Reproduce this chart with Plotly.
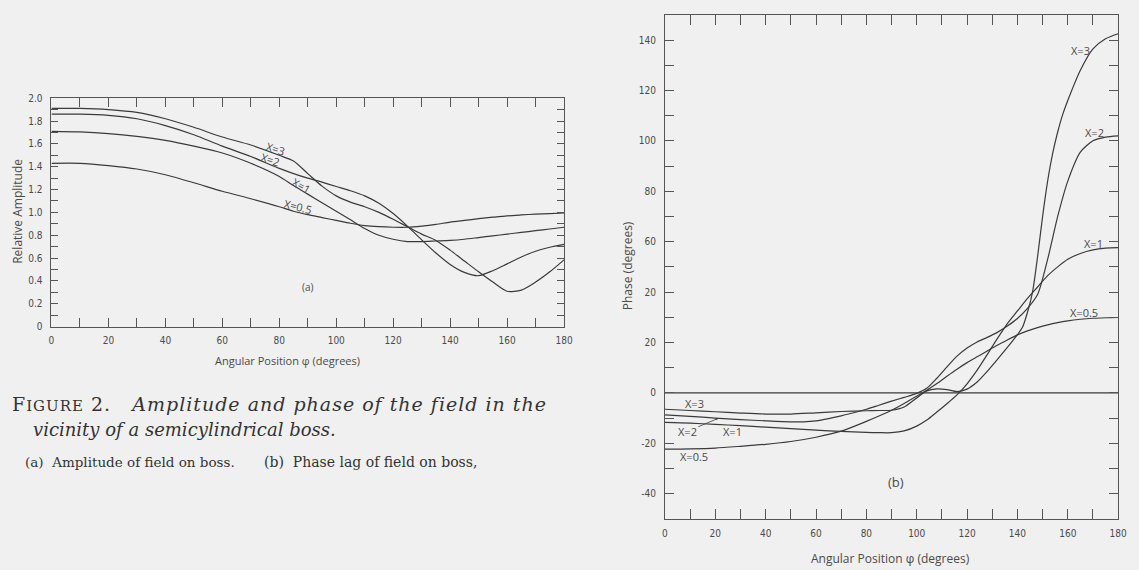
import plotly.graph_objects as go

# ---------------- data: panel (a) relative amplitude ----------------
phi_a = [0, 10, 20, 30, 40, 50, 60, 70, 80, 85, 90, 95, 100, 105, 110, 115, 120,
         125, 130, 135, 140, 145, 150, 155, 160, 165, 170, 175, 180]
amp_x3 = [1.91, 1.91, 1.90, 1.875, 1.82, 1.745, 1.66, 1.59, 1.50, 1.45, 1.34, 1.23,
          1.145, 1.09, 1.05, 1.0, 0.94, 0.875, 0.81, 0.755, 0.67, 0.575, 0.48,
          0.39, 0.31, 0.32, 0.39, 0.48, 0.585]
amp_x2 = [1.86, 1.86, 1.85, 1.82, 1.76, 1.68, 1.58, 1.49, 1.385, 1.34, 1.30, 1.265,
          1.227, 1.19, 1.145, 1.08, 0.99, 0.88, 0.76, 0.645, 0.545, 0.475, 0.446,
          0.49, 0.55, 0.61, 0.66, 0.695, 0.72]
amp_x1 = [1.71, 1.705, 1.69, 1.665, 1.63, 1.58, 1.52, 1.43, 1.315, 1.235, 1.16,
          1.085, 1.01, 0.935, 0.86, 0.80, 0.765, 0.745, 0.745, 0.75, 0.755, 0.765,
          0.78, 0.795, 0.81, 0.825, 0.84, 0.855, 0.87]
amp_x05 = [1.43, 1.43, 1.41, 1.38, 1.33, 1.26, 1.185, 1.12, 1.05, 1.01, 0.98, 0.955,
           0.93, 0.905, 0.885, 0.875, 0.87, 0.87, 0.88, 0.895, 0.915, 0.93, 0.945,
           0.958, 0.97, 0.978, 0.985, 0.99, 0.995]

# ---------------- data: panel (b) phase ----------------
phi_b3 = [0, 10, 20, 30, 40, 50, 60, 70, 80, 85, 90, 95, 100, 104, 108, 112, 116, 120,
          124, 128, 132, 136, 140, 142, 144, 146, 148, 150, 152, 154, 156, 158, 160,
          165, 170, 175, 180]
ph_x3 = [-6.5, -7.0, -7.5, -8.0, -8.4, -8.4, -7.9, -7.4, -7.1, -7.0, -6.9, -5.6, -2.0,
         0.8, 1.6, 1.3, 0.5, 1.5, 4.3, 8.5, 13.2, 18.0, 23.1, 26, 32, 40, 54, 70, 84,
         95, 103.5, 110.5, 116, 128, 136.5, 140.5, 142.5]
phi_b2 = [0, 10, 20, 30, 40, 50, 55, 60, 65, 70, 75, 80, 85, 90, 95, 100, 104, 108,
          112, 116, 120, 124, 128, 132, 136, 140, 144, 148, 152, 156, 160, 165, 170,
          175, 180]
ph_x2 = [-8.7, -9.3, -10.0, -10.6, -11.1, -11.5, -11.5, -11.1, -10.2, -9.1, -7.9, -6.5,
         -4.9, -3.3, -1.8, -0.2, 1.8, 5.8, 10.3, 14.6, 17.8, 20.2, 22.0, 24.0, 26.5,
         29.5, 33.5, 39, 53, 70, 84, 95.5, 100, 101.5, 102]
phi_b1 = [0, 10, 20, 30, 40, 50, 60, 70, 80, 85, 90, 95, 100, 104, 108, 112, 116, 120,
          124, 128, 132, 136, 140, 144, 148, 152, 156, 160, 165, 170, 175, 180]
ph_x1 = [-11.7, -12.0, -12.5, -13.0, -13.6, -14.2, -14.8, -15.3, -15.7, -15.8, -15.8,
         -15.1, -13.2, -10.8, -7.6, -4.3, -0.8, 3.6, 9.0, 15.2, 21.5, 27.5, 32.5, 37.5,
         42, 46.5, 50, 53, 55.3, 56.7, 57.4, 57.6]
phi_b05 = [0, 10, 20, 30, 40, 50, 60, 70, 80, 85, 90, 95, 100, 104, 108, 112, 116, 120,
           124, 128, 132, 136, 140, 144, 148, 152, 156, 160, 165, 170, 175, 180]
ph_x05 = [-22.3, -22.2, -21.9, -21.2, -20.4, -19.3, -17.6, -15.2, -11.3, -9.2, -6.9,
          -4.2, -1.3, 1.0, 3.7, 6.6, 9.4, 12.0, 14.3, 16.6, 18.9, 21.0, 23.0, 24.6,
          25.9, 27.0, 27.9, 28.6, 29.2, 29.6, 29.8, 29.9]
zero_x = [0, 180]
zero_y = [0, 0]

# tick labels
a_ytickvals = [0, 0.2, 0.4, 0.6, 0.8, 1.0, 1.2, 1.4, 1.6, 1.8, 2.0]
a_yticktext = ["0", "0.2", "0.4", "0.6", "0.8", "1.0", "1.2", "1.4", "1.6", "1.8", "2.0"]
b_ytickvals = [-40, -20, 0, 20, 40, 60, 80, 100, 120, 140]
b_yticktext = ["-40", "-20", "0", "20", "20", "60", "80", "100", "120", "140"]
x_tickvals = [0, 20, 40, 60, 80, 100, 120, 140, 160, 180]

W, H = 1139, 570
LINE = "#3a3a3a"
AX = "#555555"
TXT = "#4a4a4a"
BG = "#f0f0f0"
SANS = "Open Sans, DejaVu Sans, sans-serif"
NARROW = "Liberation Sans Narrow, DejaVu Sans Condensed, Roboto Condensed, sans-serif"
SERIF = "DejaVu Serif, Liberation Serif, serif"

def px(x):
    return x / W

def py(y):
    return 1 - y / H

fig = go.Figure()
line_style = dict(color=LINE, width=1.2, shape="spline", smoothing=0.7)
for ys in [amp_x3, amp_x2, amp_x1, amp_x05]:
    fig.add_trace(go.Scatter(x=phi_a, y=ys, mode="lines", line=line_style,
                             xaxis="x", yaxis="y", showlegend=False, hoverinfo="skip"))
for xs, ys in [(phi_b3, ph_x3), (phi_b2, ph_x2), (phi_b1, ph_x1), (phi_b05, ph_x05)]:
    fig.add_trace(go.Scatter(x=xs, y=ys, mode="lines", line=line_style,
                             xaxis="x2", yaxis="y2", showlegend=False, hoverinfo="skip"))
fig.add_trace(go.Scatter(x=zero_x, y=zero_y, mode="lines",
                         line=dict(color=LINE, width=1.2),
                         xaxis="x2", yaxis="y2", showlegend=False, hoverinfo="skip"))

common = dict(showline=True, linecolor=AX, linewidth=1, mirror="ticks",
              ticks="inside", tickcolor=AX, tickwidth=1, showgrid=False,
              zeroline=False, tickfont=dict(family=NARROW, size=10, color=TXT))

fig.update_layout(
    width=W, height=H,
    margin=dict(l=0, r=0, t=0, b=0),
    paper_bgcolor=BG, plot_bgcolor=BG,
    showlegend=False,
    xaxis=dict(domain=[px(49), px(567)], range=[0, 180], tickvals=x_tickvals,
               ticklen=9, minor=dict(dtick=10, ticks="inside", ticklen=9, tickcolor=AX),
               anchor="y", ticklabelstandoff=4, **common),
    yaxis=dict(domain=[py(328), py(95)], range=[0, 2], tickvals=a_ytickvals,
               ticktext=a_yticktext, ticklen=7,
               minor=dict(dtick=0.1, ticks="inside", ticklen=7, tickcolor=AX),
               anchor="x", ticklabelstandoff=6, **common),
    xaxis2=dict(domain=[px(669), px(1127)], range=[0, 180], tickvals=x_tickvals,
                ticklen=10, minor=dict(dtick=10, ticks="inside", ticklen=10, tickcolor=AX),
                anchor="y2", ticklabelstandoff=5, **common),
    yaxis2=dict(domain=[py(524), py(10)], range=[-50, 150], tickvals=b_ytickvals,
                ticktext=b_yticktext, ticklen=9,
                minor=dict(dtick=10, ticks="inside", ticklen=9, tickcolor=AX),
                anchor="x2", ticklabelstandoff=6, **common),
)

ann = []
def paper_text(text, x, y, size, angle=0, family=SANS, xanchor="center"):
    ann.append(dict(text=text, x=px(x), y=py(y), xref="paper", yref="paper",
                    xanchor=xanchor, yanchor="middle", textangle=angle,
                    showarrow=False, font=dict(family=family, size=size, color=TXT)))

# axis titles
paper_text("Relative Amplitude", 15, 210, 12, angle=-90)
paper_text("Angular Position \u03c6 (degrees)", 288, 363, 11)
paper_text("Phase (degrees)", 632, 266, 12, angle=-90)
paper_text("Angular Position \u03c6 (degrees)", 897, 564, 12)

# panel labels
ann.append(dict(text="(a)", x=90, y=0.35, xref="x", yref="y", showarrow=False,
                font=dict(family=SANS, size=10, color=TXT)))
ann.append(dict(text="(b)", x=91.6, y=-35.5, xref="x2", yref="y2", showarrow=False,
                font=dict(family=SANS, size=13, color=TXT)))
# curve labels (a)
for t, x, y, ang in [("X=3", 78.5, 1.556, 18), ("X=2", 77, 1.465, 18),
                     ("X=1", 87.8, 1.236, 30), ("X=0.5", 86.6, 1.056, 14)]:
    ann.append(dict(text=t, x=x, y=y, xref="x", yref="y", showarrow=False, textangle=ang,
                    font=dict(family=SANS, size=11, color=TXT)))
# curve labels (b)
for t, x, y in [("X=3", 11.8, -4.3), ("X=1", 26.7, -15.2), ("X=0.5", 11.5, -25.3),
                ("X=3", 165, 135.9), ("X=2", 170.8, 103.3), ("X=1", 170.2, 59.3),
                ("X=0.5", 166.3, 32)]:
    ann.append(dict(text=t, x=x, y=y, xref="x2", yref="y2", showarrow=False,
                    font=dict(family=SANS, size=11, color=TXT)))
ann.append(dict(text="X=2", x=21.2, y=-10.1, xref="x2", yref="y2", showarrow=True,
                ax=-31, ay=13, arrowhead=2, arrowsize=0.6, arrowwidth=0.8,
                arrowcolor=LINE, font=dict(family=SANS, size=11, color=TXT)))

# caption
CAP = "#333333"
gap = "&nbsp;"
line1 = ("<span style='letter-spacing:1px'>F<span style='font-size:15px'>IGURE</span> 2."
         + gap * 3 + "<i>Amplitude" + gap + "and" + gap + "phase" + gap + "of" + gap
         + "the" + gap + "field" + gap + "in" + gap + "the</i></span>")
ann.append(dict(text=line1, x=px(7), y=py(407), xref="paper", yref="paper",
                xanchor="left", yanchor="middle", showarrow=False,
                font=dict(family=SERIF, size=19, color=CAP)))
ann.append(dict(text="<i>vicinity of a semicylindrical boss.</i>",
                x=px(28), y=py(433), xref="paper", yref="paper", xanchor="left",
                yanchor="middle", showarrow=False,
                font=dict(family=SERIF, size=18, color=CAP)))
ann.append(dict(text="(a)&nbsp;&nbsp;Amplitude of field on boss.",
                x=px(20), y=py(466), xref="paper", yref="paper", xanchor="left",
                yanchor="middle", showarrow=False,
                font=dict(family=SERIF, size=13.5, color=CAP)))
ann.append(dict(text="(b)&nbsp;&nbsp;Phase lag of field on boss,",
                x=px(262), y=py(466), xref="paper", yref="paper", xanchor="left",
                yanchor="middle", showarrow=False,
                font=dict(family=SERIF, size=14, color=CAP)))

fig.update_layout(annotations=ann)
fig.write_html("out.html", config={"displayModeBar": False},
               post_script="document.body.style.margin='0px';document.body.style.overflow='hidden';")
